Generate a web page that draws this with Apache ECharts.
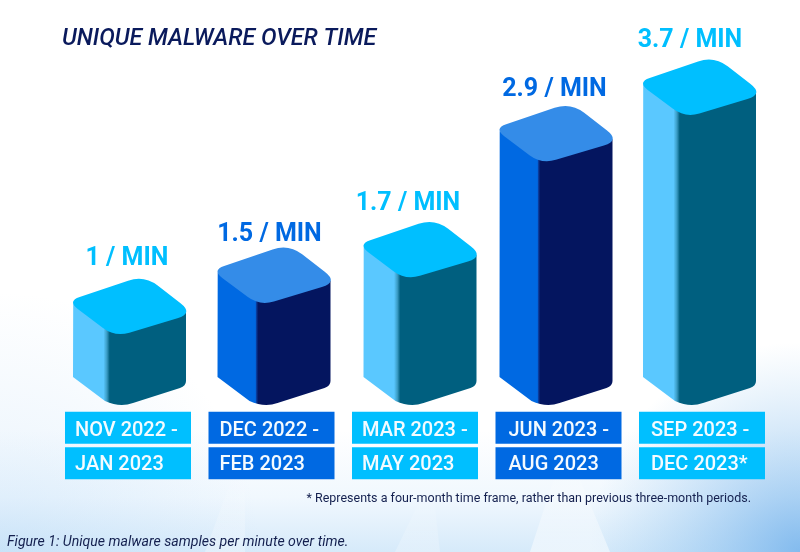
<!DOCTYPE html>
<html>
<head>
<meta charset="utf-8">
<style>html,body{margin:0;padding:0;background:#fff}#c{width:800px;height:552px}</style>
<script src="https://cdn.jsdelivr.net/npm/echarts@6/dist/echarts.min.js"></script>
</head>
<body>
<div id="c"></div>
<script>
// ---- data ----
const periodStart = ['NOV 2022 -', 'DEC 2022 -', 'MAR 2023 -', 'JUN 2023 -', 'SEP 2023 -'];
const periodEnd = ['JAN 2023', 'FEB 2023', 'MAY 2023', 'AUG 2023', 'DEC 2023*'];
const printedRates = ['1', '1.5', '1.7', '2.9', '3.7'];
// The source graphic's bar heights are not strictly proportional to its printed rates:
// these are the drawn heights, in axis units.
const drawnHeights = [0.90, 1.29, 1.61, 3.06, 3.64];
const tones = ['light', 'dark', 'light', 'dark', 'light'];

// ---- styling / layout ----
const PALETTE = {
  light: { top: '#00BFFF', left: '#5AC8FF', seam: '#3A9CC4', right: '#005F7F', text: '#00BFFF', box: '#00BFFF', s: [0.27, 0.30, 0.325] },
  dark: { top: '#348CE8', left: '#0069E2', seam: '#0A3C9C', right: '#04155F', text: '#0069E2', box: '#0069E2', s: [0.335, 0.345, 0.36] }
};
const BAR_NUDGE = [1.5, 2.5, 5, -2.5, -2.5];
const LABEL_NUDGE = [[-1, -75.5], [-2, -68.5], [-7, -73.5], [-4, -71.5], [-12, -74.5]];
const FONT = 'Roboto, sans-serif';

// Outline of the bar's cap relative to its left edge and front point: corner and rounding distance.
const CAP_CORNERS = [
  { x: -5.65, y: -32.7, d: 13 },
  { x: 71.2, y: -58.8, d: 17 },
  { x: 120.7, y: -20.7, d: 17 },
  { x: 42, y: 3, d: 15 }
];
function topPath(x, y) {
  const n = CAP_CORNERS.length;
  let path = '';
  CAP_CORNERS.forEach((c, k) => {
    const prev = CAP_CORNERS[(k + n - 1) % n];
    const next = CAP_CORNERS[(k + 1) % n];
    const toward = (o) => {
      const len = Math.hypot(o.x - c.x, o.y - c.y);
      return [x + c.x + (o.x - c.x) * c.d / len, y + c.y + (o.y - c.y) * c.d / len];
    };
    const a = toward(prev);
    const b = toward(next);
    path += (k === 0 ? 'M' : 'L') + a[0] + ' ' + a[1] + 'Q' + (x + c.x) + ' ' + (y + c.y) + ' ' + b[0] + ' ' + b[1];
  });
  return path + 'Z';
}
function bodyPath(x, yTop, yBase) {
  const t = (a, b) => (x + a) + ' ' + (yTop + b);
  const g = (a, b) => (x + a) + ' ' + (yBase + b);
  return 'M' + t(0.2, -30) + 'L' + g(0, -29) + 'L' + g(32, -5) +
    'Q' + g(47, 2) + ' ' + g(60, -3) +
    'L' + g(107, -18) + 'Q' + g(113, -20) + ' ' + g(113, -25) +
    'L' + t(113, -22) + 'L' + t(60, -12) + 'L' + t(30, -12) + 'Z';
}

function renderBar(params, api) {
  const i = api.value(0);
  const top = api.coord([i, api.value(1)]);
  const base = api.coord([i, 0]);
  const c = PALETTE[tones[i]];
  const x = top[0] - 56.5 + BAR_NUDGE[i];
  const fill = new echarts.graphic.LinearGradient(0, 0, 1, 0, [
    { offset: 0, color: c.left },
    { offset: c.s[0], color: c.left },
    { offset: c.s[1], color: c.seam },
    { offset: c.s[2], color: c.right },
    { offset: 1, color: c.right }
  ]);
  return {
    type: 'group',
    children: [
      { type: 'path', shape: { pathData: bodyPath(x, top[1], base[1]) }, style: { fill: fill } },
      { type: 'path', shape: { pathData: topPath(x, top[1]) }, style: { fill: c.top } },
      {
        type: 'text',
        style: {
          text: printedRates[i] + ' / MIN',
          x: top[0] + LABEL_NUDGE[i][0],
          y: top[1] + LABEL_NUDGE[i][1],
          align: 'center',
          verticalAlign: 'middle',
          fill: c.text,
          font: '700 25px ' + FONT
        }
      }
    ]
  };
}

const richBox = (tone, pad, padTop) => ({
  backgroundColor: PALETTE[tone].box,
  color: '#F4FBFF',
  fontFamily: FONT,
  fontSize: 20,
  fontWeight: 500,
  width: 126 - pad,
  height: 32 - padTop,
  lineHeight: 35.5,
  align: 'left',
  padding: [padTop, 0, 0, pad]
});
const LABEL_PAD = [10, 11, 10, 13, 12];
const rich = {};
periodStart.forEach((_, i) => {
  rich['a' + i] = richBox(tones[i], LABEL_PAD[i], 7);
  rich['b' + i] = richBox(tones[i], LABEL_PAD[i], 3);
});

const chart = echarts.init(document.getElementById('c'), null, { renderer: 'canvas', width: 800, height: 552 });

const fade = (alpha) => new echarts.graphic.LinearGradient(0, 0, 0, 1, [
  { offset: 0, color: 'rgba(255,255,255,0)' },
  { offset: 1, color: 'rgba(255,255,255,' + alpha + ')' }
]);
const streak = (pts, alpha) => ({
  type: 'polygon', z: -1, silent: true,
  shape: { points: pts },
  style: { fill: fade(alpha) }
});
const glow = (cx, cy, r, color0, color1) => ({
  type: 'rect', z: -2, silent: true,
  shape: { x: 0, y: 0, width: 800, height: 552 },
  style: {
    fill: new echarts.graphic.RadialGradient(cx, cy, r, [
      { offset: 0, color: color0 },
      { offset: 1, color: color1 }
    ], true)
  }
});

chart.setOption({
  animation: false,
  backgroundColor: new echarts.graphic.LinearGradient(0, 0, 0, 1, [
    { offset: 0, color: '#FFFFFF' },
    { offset: 0.78, color: '#FFFFFF' },
    { offset: 0.9, color: '#F1F8FE' },
    { offset: 1, color: '#D6EAFA' }
  ]),
  title: {
    text: 'UNIQUE MALWARE OVER TIME',
    left: 62, top: 28, padding: 0,
    textStyle: { fontFamily: FONT, fontSize: 23.3, fontStyle: 'italic', fontWeight: 500, color: '#0A1A5C' }
  },
  grid: { left: 56.25, width: 717.5, top: 6, height: 400 },
  xAxis: {
    type: 'category',
    data: periodStart,
    axisLine: { show: false },
    axisTick: { show: false },
    axisLabel: {
      margin: 4,
      interval: 0,
      formatter: (v, i) => '{a' + i + '|' + periodStart[i] + '}\n{b' + i + '|' + periodEnd[i] + '}',
      rich: rich
    }
  },
  yAxis: { type: 'value', min: 0, max: 5, show: false },
  series: [{
    type: 'custom',
    clip: false,
    coordinateSystem: 'cartesian2d',
    renderItem: renderBar,
    encode: { x: 0, y: 1 },
    data: drawnHeights.map((h, i) => [i, h])
  }],
  graphic: [
    glow(800, 552, 210, 'rgba(110,175,235,0.8)', 'rgba(150,200,240,0)'),
    glow(0, 552, 260, 'rgba(170,210,245,0.3)', 'rgba(170,210,245,0)'),
    streak([[205, 552], [235, 470], [245, 470], [245, 552]], 0.3),
    streak([[530, 552], [560, 460], [572, 460], [610, 552]], 0.5),
    streak([[395, 552], [425, 490], [433, 490], [440, 552]], 0.25),
    {
      type: 'text', z: 10, x: 751, y: 499, scaleX: 0.925,
      style: {
        text: '* Represents a four-month time frame, rather than previous three-month periods.',
        x: 0, y: 0, align: 'right', verticalAlign: 'middle',
        fill: '#14204F', font: '400 13.5px ' + FONT
      }
    },
    {
      type: 'text', z: 10,
      style: {
        text: 'Figure 1: Unique malware samples per minute over time.',
        x: 7, y: 542, align: 'left', verticalAlign: 'middle',
        fill: '#14204F', font: 'italic 400 14.1px ' + FONT
      }
    }
  ]
});
</script>
</body>
</html>
